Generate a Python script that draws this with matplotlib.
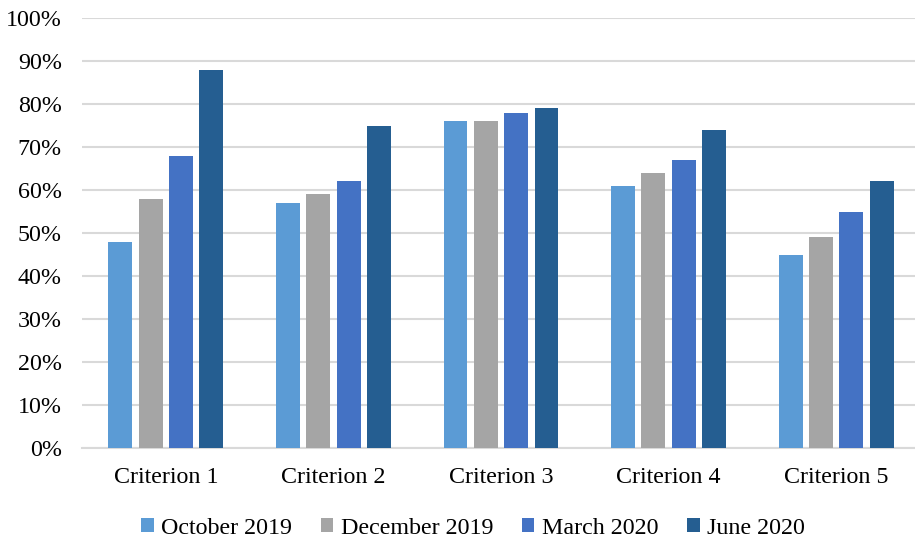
import numpy as np
import matplotlib
matplotlib.use("Agg")
import matplotlib.pyplot as plt
from matplotlib.patches import Patch
from matplotlib.ticker import FuncFormatter

categories = ["Criterion 1", "Criterion 2", "Criterion 3", "Criterion 4", "Criterion 5"]
series_names = ["October 2019", "December 2019", "March 2020", "June 2020"]
october_2019 = [48, 57, 76, 61, 45]
december_2019 = [58, 59, 76, 64, 49]
march_2020 = [68, 62, 78, 67, 55]
june_2020 = [88, 75, 79, 74, 62]
y_ticks = [0, 10, 20, 30, 40, 50, 60, 70, 80, 90, 100]

series_values = [october_2019, december_2019, march_2020, june_2020]
colors = ["#5B9BD5", "#A5A5A5", "#4472C4", "#255E91"]

plt.rcParams["font.family"] = ["Liberation Serif", "DejaVu Serif"]

W, H = 915, 539
fig = plt.figure(figsize=(W / 100, H / 100), dpi=100)
ax = fig.add_axes([82 / W, 1 - 448 / H, (920 - 82) / W, (448 - 18) / H])

x = np.arange(len(categories))
bar_w = 0.143
step = 0.181
for i, (vals, col) in enumerate(zip(series_values, colors)):
    offs = (i - 1.5) * step
    ax.bar(x + offs, vals, width=bar_w, color=col, zorder=3)

ax.set_xlim(-0.5, len(categories) - 0.5)
ax.set_ylim(0, 100)
ax.set_yticks(y_ticks)
ax.yaxis.set_major_formatter(FuncFormatter(lambda v, p: f"{int(v)}%"))
ax.set_xticks(x)
ax.set_xticklabels(categories)
ax.grid(axis="y", color="#D9D9D9", linewidth=1.5, zorder=0)
ax.set_axisbelow(True)
for s in ["top", "right", "left"]:
    ax.spines[s].set_visible(False)
ax.spines["bottom"].set_color("#D9D9D9")
ax.spines["bottom"].set_linewidth(1.5)
ax.tick_params(axis="both", length=0, labelsize=17.3, colors="black")
ax.tick_params(axis="y", pad=14.5)
ax.tick_params(axis="x", pad=14)

handles = [Patch(facecolor=c, edgecolor="none") for c in colors]
fig.legend(handles, series_names, loc="center", bbox_to_anchor=(473 / W, 1 - 528 / H),
           ncol=4, frameon=False, fontsize=17.3, handlelength=0.52, handleheight=0.52,
           handletextpad=0.3, columnspacing=1.2, borderaxespad=0)

fig.savefig("out.png", dpi=100)
